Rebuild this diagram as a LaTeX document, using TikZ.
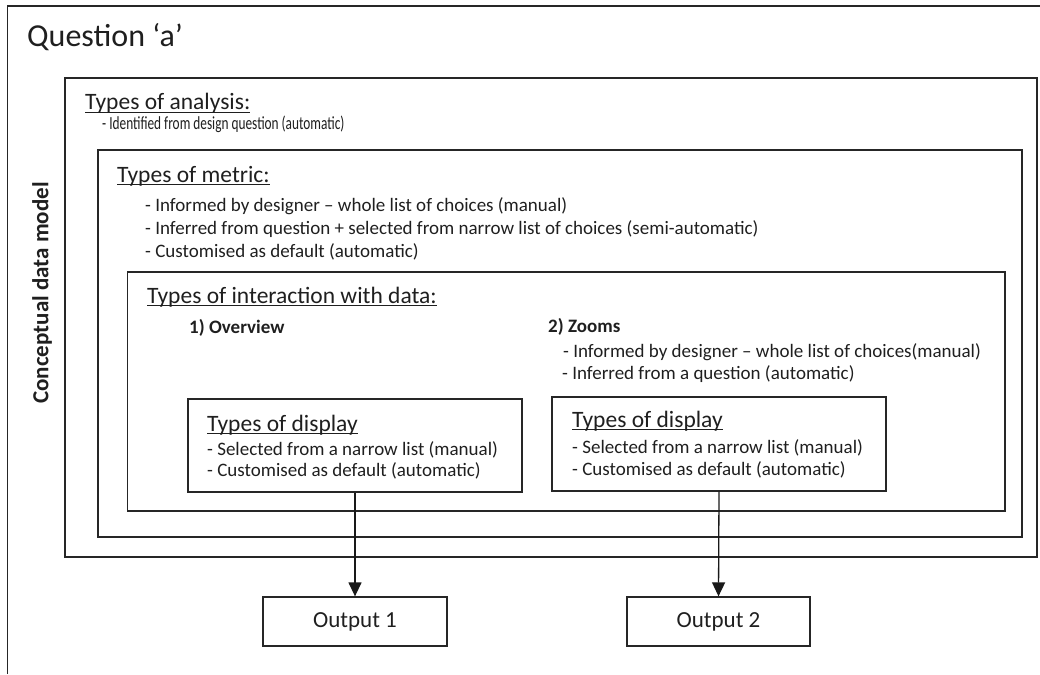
\documentclass[tikz,border=0pt]{standalone}
\usepackage{fontspec}
\usepackage{graphicx}
\setmainfont{Carlito}
\usetikzlibrary{arrows.meta}
\newcommand\myul[1]{\setbox0\hbox{#1}\rlap{\rule[-3pt]{\wd0}{1.1pt}}\box0}
\newcommand\fs[1]{\fontsize{#1}{#1}\selectfont}
\tikzset{
  box/.style={draw=black!85, line width=1.3pt, rectangle, inner sep=0pt},
  txt/.style={anchor=base west, inner sep=0pt, text=black!88},
  head/.style={txt, font=\fs{23.5}},
  item/.style={txt, font=\fs{19}},
  link/.style={draw=black!90, line width=1.3pt, -{Triangle[width=13pt,length=14pt]}},
}
\begin{document}
\begin{tikzpicture}[x=1pt,y=-1pt]
\useasboundingbox (0,0) rectangle (1040,674);
% outer frame
\coordinate (fbl) at (7.5,674);
\coordinate (ftl) at (7.5,6);
\coordinate (ftr) at (1040,6);
\draw[draw=black!85, line width=1.3pt] (fbl) -- (ftl) -- (ftr);
% nested boxes
\node[box, minimum width=972pt, minimum height=479pt] (ana) at (551,317.5) {};
\node[box, minimum width=924pt, minimum height=387pt] (met) at (560,343.5) {};
\node[box, minimum width=877.5pt, minimum height=239pt] (int) at (566.25,391.5) {};
\node[box, minimum width=334pt, minimum height=93pt] (d1) at (355,445.5) {};
\node[box, minimum width=334pt, minimum height=94pt] (d2) at (719,444) {};
\node[box, minimum width=184pt, minimum height=49pt, font=\fs{23}, text=black!88] (o1) at (355,621.5) {Output 1};
\node[box, minimum width=183pt, minimum height=49pt, font=\fs{23}, text=black!88] (o2) at (718.5,621.5) {Output 2};
% texts
\node[txt, font=\fs{32}] (q) at (27,47) {Question ‘a’};
\node[anchor=center, rotate=90, inner sep=0pt, font=\fs{23}\bfseries, text=black!88] (cdm) at (42,293) {Conceptual data model};
\node[head] (tana) at (85,110) {\myul{Types of analysis:}};
\node[txt, font=\fs{18.5}] (iana) at (102,129) {\scalebox{0.72}[1]{- Identified from design question (automatic)}};
\node[head] (tmet) at (117,182) {\myul{Types of metric:}};
\node[item] (m1) at (145,211) {- Informed by designer – whole list of choices (manual)};
\node[item] (m2) at (145,234) {- Inferred from question + selected from narrow list of choices (semi-automatic)};
\node[item] (m3) at (145,257) {- Customised as default (automatic)};
\node[head] (tint) at (147,303) {\myul{Types of interaction with data:}};
\node[txt, font=\fs{19}\bfseries] (ov) at (189,333) {1) Overview};
\node[txt, font=\fs{19}\bfseries] (zo) at (548,332) {2) Zooms};
\node[item] (z1) at (563,357) {- Informed by designer – whole list of choices(manual)};
\node[item] (z2) at (562,379) {- Inferred from a question (automatic)};
\node[head] (td1) at (207,431) {\myul{Types of display}};
\node[item] (d11) at (207,455) {- Selected from a narrow list (manual)};
\node[item] (d12) at (207,476) {- Customised as default (automatic)};
\node[head] (td2) at (572,427) {\myul{Types of display}};
\node[item] (d21) at (572,453) {- Selected from a narrow list (manual)};
\node[item] (d22) at (572,475) {- Customised as default (automatic)};
% connectors
\draw[link] (d1.south) -- (o1.north);
\draw[link] (d2.south) -- (o2.north);
\end{tikzpicture}
\end{document}
